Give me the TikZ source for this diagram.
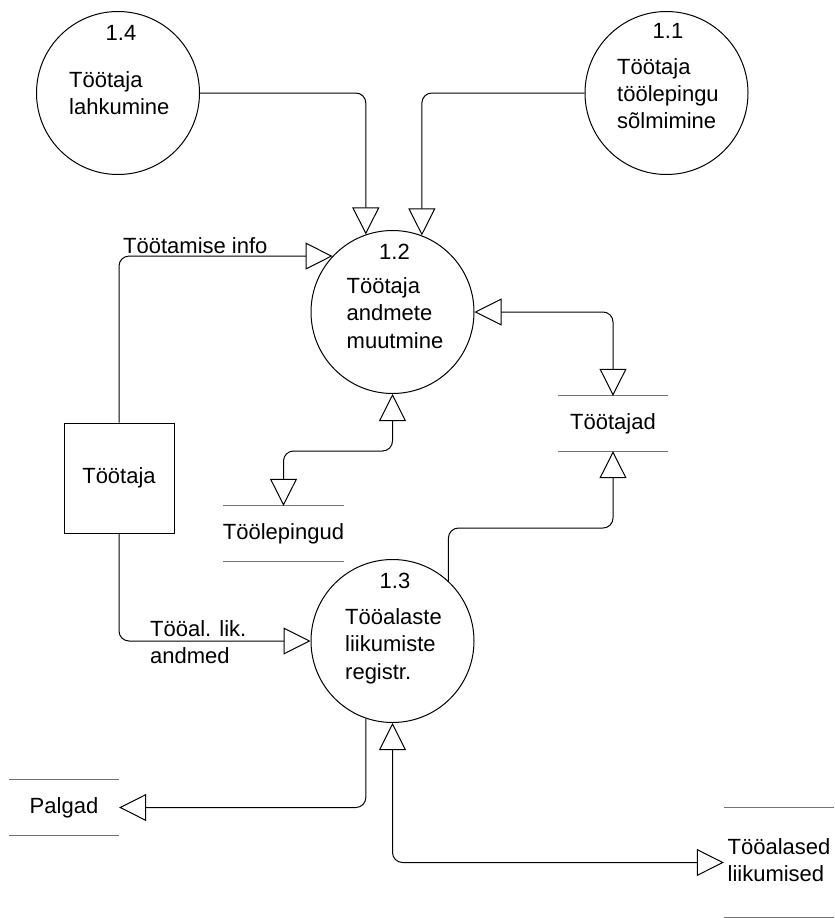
\documentclass[tikz,border=0pt]{standalone}
\usepackage{fontspec}
\setmainfont{Liberation Sans}
\usetikzlibrary{arrows.meta}
\newcommand{\mylines}[2][t]{\begin{tabular}[#1]{@{}l@{}}#2\end{tabular}}
\begin{document}
\begin{tikzpicture}[x=1pt,y=-1pt,
  every node/.style={font=\fontsize{22}{27.5}\selectfont, inner sep=0pt},
  proc/.style={circle, draw, line width=1pt, minimum size=163pt},
  ent/.style={rectangle, draw, line width=1pt, minimum width=110pt, minimum height=110pt},
  store/.style={minimum width=110pt, minimum height=55pt},
  sline/.style={draw=black!55, line width=1.3pt},
  tip/.tip={Triangle[open,length=27pt,width=27pt]},
  flow/.style={line width=1pt, rounded corners=10pt, -tip},
  flowtwo/.style={line width=1pt, rounded corners=10pt, tip-tip}]
\useasboundingbox (0,0) rectangle (835,918);

% processes
\node[proc] (p14) at (118,93) {};
\node[proc] (p11) at (666.5,93) {};
\node[proc] (p12) at (392.5,312) {};
\node[proc] (p13) at (392.5,641) {};

\node[anchor=base] (p14n) at (121,40) {1.4};
\node[anchor=base west] (p14t) at (69,87) {\mylines{Töötaja\\lahkumine}};
\node[anchor=base] (p11n) at (668,38) {1.1};
\node[anchor=base west] (p11t) at (617,74) {\mylines{Töötaja\\töölepingu\\sõlmimine}};
\node[anchor=base] (p12n) at (394.5,259) {1.2};
\node[anchor=base west] (p12t) at (346.5,293) {\mylines{Töötaja\\andmete\\muutmine}};
\node[anchor=base] (p13n) at (395,588) {1.3};
\node[anchor=base west] (p13t) at (345,624) {\mylines{Tööalaste\\liikumiste\\registr.}};

% external entity
\node[ent] (ent) at (119,478) {Töötaja};

% data stores
\node[store] (s1) at (613,423.5) {Töötajad};
\node[store] (s2) at (283.5,533.5) {Töölepingud};
\node[store] (s3) at (64,807.5) {Palgad};
\node[store, minimum height=109pt] (s4) at (779,862.5) {\mylines[c]{Tööalased\\liikumised}};
\draw[sline] (s1.north west) -- (s1.north east) (s1.south west) -- (s1.south east);
\draw[sline] (s2.north west) -- (s2.north east) (s2.south west) -- (s2.south east);
\draw[sline] (s3.north west) -- (s3.north east) (s3.south west) -- (s3.south east);
\draw[sline] (s4.north west) -- (s4.north east) (s4.south west) -- (s4.south east);

% flow labels
\node[anchor=base west] (l1) at (123,253) {Töötamise info};
\node[anchor=base west] (l2) at (150,636) {\mylines{Tööal. lik.\\andmed}};

% flows
\draw[flow] (p14.east) -| (p12.109);
\draw[flow] (p11.west) -| (p12.69);
\draw[flow] (ent.north) |- (p12.137.5);
\draw[flow] (ent.south) |- (p13.west);
\draw[flowtwo] (p12.east) -| (s1.north);
\draw[flow] (p13.47.5) -- ++(0,-53) -| (s1.south);
\draw[flowtwo] (p12.south) -- ++(0,57) -| (s2.north);
\draw[flow] (p13.251.3) |- (s3.east);
\draw[flowtwo] (p13.south) |- (s4.west);
\end{tikzpicture}
\end{document}
